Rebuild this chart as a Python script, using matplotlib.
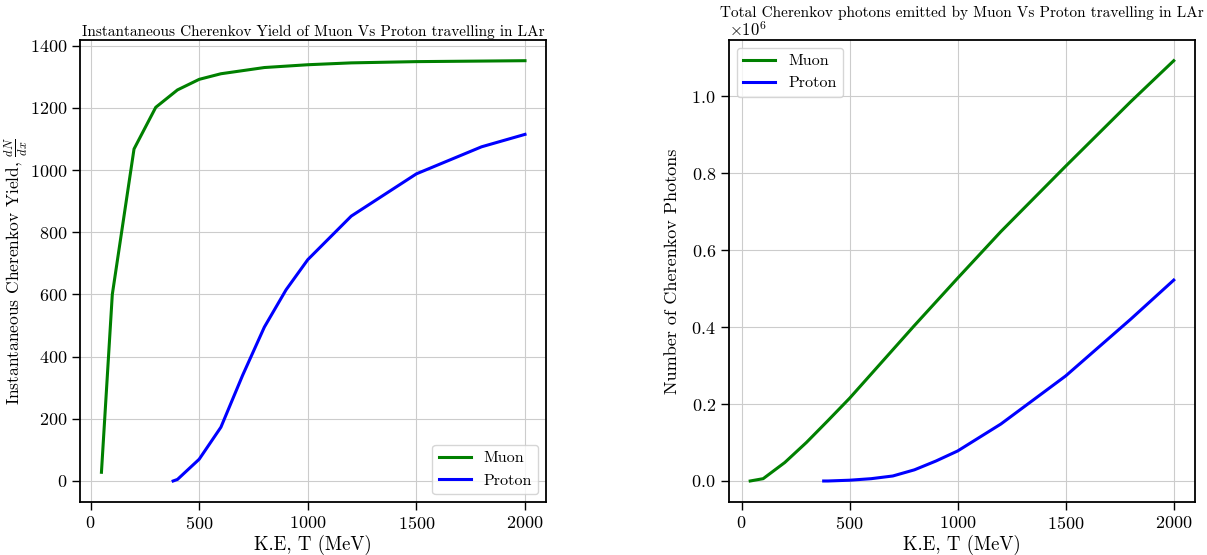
import numpy as np
import matplotlib
matplotlib.use("Agg")
import matplotlib.pyplot as plt

# Instantaneous yield dN/dx vs kinetic energy (MeV)
muon_T = [50, 100, 200, 300, 400, 500, 600, 800, 1000, 1200, 1500, 2000]
muon_dndx = [28, 600, 1068, 1202, 1258, 1292, 1310, 1330, 1339, 1345, 1349, 1352]
proton_T = [380, 400, 500, 600, 700, 800, 900, 1000, 1200, 1500, 1800, 2000]
proton_dndx = [0, 5, 70, 173, 340, 495, 615, 712, 852, 988, 1075, 1115]

# Total Cherenkov photons vs kinetic energy (MeV)
muon_T2 = [40, 100, 200, 300, 400, 500, 600, 800, 1000, 1200, 1500, 1800, 2000]
muon_tot = [0, 6e3, 4.8e4, 1.0e5, 1.57e5, 2.15e5, 2.78e5, 4.04e5, 5.27e5, 6.48e5, 8.18e5, 9.85e5, 1.092e6]
proton_T2 = [380, 400, 500, 600, 700, 800, 900, 1000, 1200, 1500, 1800, 2000]
proton_tot = [0, 0, 2e3, 6e3, 1.3e4, 2.9e4, 5.2e4, 7.8e4, 1.48e5, 2.73e5, 4.2e5, 5.22e5]

plt.rcParams.update({
    "font.family": ["cmr10", "DejaVu Serif"],
    "mathtext.fontset": "cm",
    "axes.formatter.use_mathtext": True,
    "axes.unicode_minus": False,
    "axes.linewidth": 1.3,
    "xtick.major.size": 6,
    "ytick.major.size": 6,
    "xtick.labelsize": 13,
    "ytick.labelsize": 13,
})

fig = plt.figure(figsize=(12.07, 5.55), dpi=100)
ax1 = fig.add_axes([0.0665, 0.0955, 0.386, 0.833])
ax2 = fig.add_axes([0.604, 0.0955, 0.386, 0.833])

ax1.plot(muon_T, muon_dndx, color="green", lw=2.2, label="Muon")
ax1.plot(proton_T, proton_dndx, color="blue", lw=2.2, label="Proton")
ax1.set_title("Instantaneous Cherenkov Yield of Muon Vs Proton travelling in LAr", fontsize=11, pad=3)
ax1.set_xlabel("K.E, T (MeV)", fontsize=13.5, labelpad=2)
ax1.set_ylabel(r"Instantaneous Cherenkov Yield, $\frac{dN}{dx}$", fontsize=12.5, labelpad=0)
ax1.legend(loc="lower right", fontsize=11.5)

ax2.plot(muon_T2, muon_tot, color="green", lw=2.2, label="Muon")
ax2.plot(proton_T2, proton_tot, color="blue", lw=2.2, label="Proton")
ax2.set_title("Total Cherenkov photons emitted by Muon Vs Proton travelling in LAr", fontsize=11, pad=0)
ax2.set_xlabel("K.E, T (MeV)", fontsize=13.5, labelpad=2)
ax2.set_ylabel("Number of Cherenkov Photons", fontsize=13, labelpad=8)
ax2.legend(loc="upper left", fontsize=11.5)

for ax in (ax1, ax2):
    ax.grid(True, color="#cccccc", linewidth=0.8)
    ax.set_axisbelow(True)
    ax.tick_params(direction="out", width=1)
    ax.yaxis.get_offset_text().set_fontsize(12)

fig.savefig("out.png", dpi=100)
